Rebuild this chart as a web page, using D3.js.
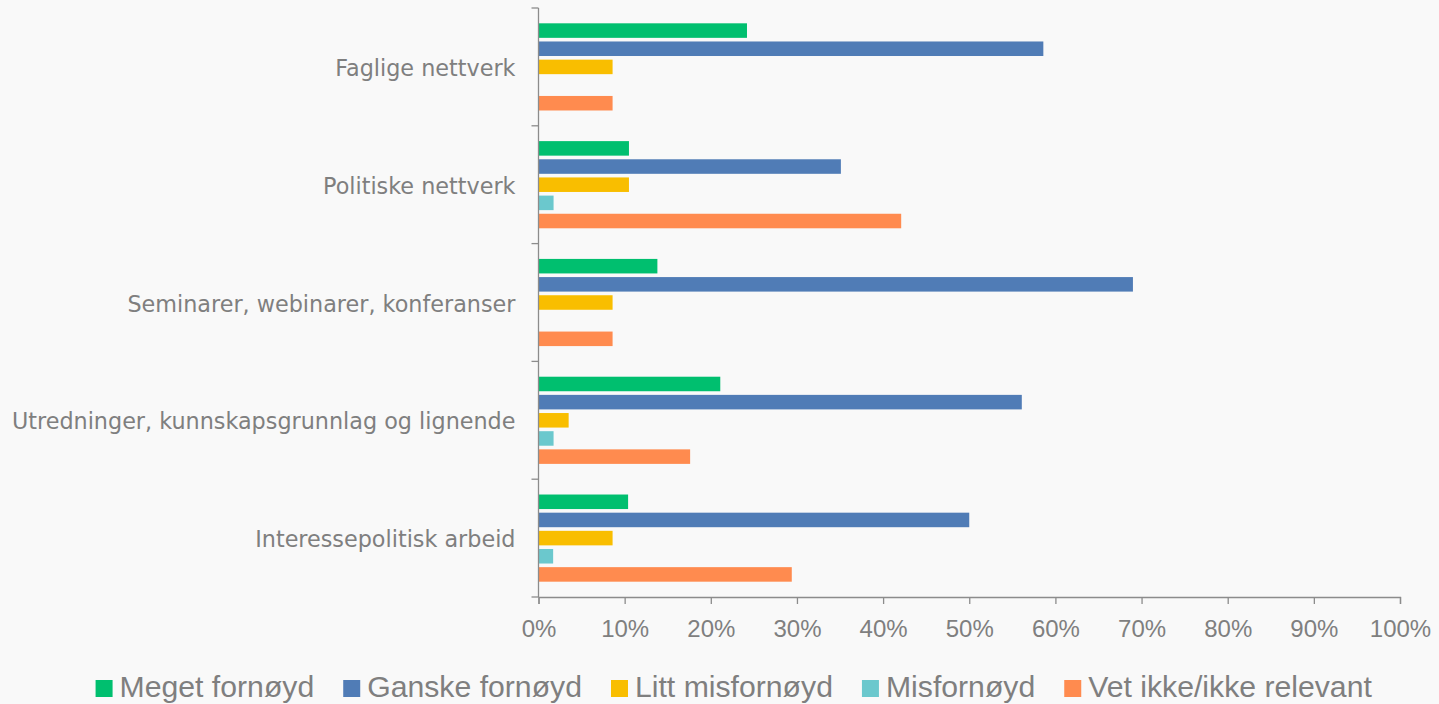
<!DOCTYPE html>
<html>
<head>
<meta charset="utf-8">
<script src="https://cdn.jsdelivr.net/npm/d3@7"></script>
<style>
  html, body { margin: 0; padding: 0; background: #f9f9f9; }
  svg { display: block; }
</style>
</head>
<body>
<svg id="chart" width="1439" height="704"></svg>
<script>
const categories = ["Faglige nettverk", "Politiske nettverk", "Seminarer, webinarer, konferanser", "Utredninger, kunnskapsgrunnlag og lignende", "Interessepolitisk arbeid"];
const seriesNames = ["Meget fornøyd", "Ganske fornøyd", "Litt misfornøyd", "Misfornøyd", "Vet ikke/ikke relevant"];
const seriesColors = ["#00BF6F", "#507CB6", "#F9BE00", "#6BC8CD", "#FF8B4F"];
const megetFornoyd   = [24.2, 10.5, 13.8, 21.1, 10.4];
const ganskeFornoyd  = [58.6, 35.1, 69.0, 56.1, 50.0];
const littMisfornoyd = [8.6, 10.5, 8.6, 3.5, 8.6];
const misfornoyd     = [0, 1.75, 0, 1.75, 1.7];
const vetIkke        = [8.6, 42.1, 8.6, 17.6, 29.4];
const xTicks = [0, 10, 20, 30, 40, 50, 60, 70, 80, 90, 100];

(function () {
const seriesValues = [megetFornoyd, ganskeFornoyd, littMisfornoyd, misfornoyd, vetIkke];
const textColor = "#7f7f7f";
const axisColor = "#8c8c8c";

const svg = d3.select("#chart");
const mLeft = 538.5, mRight = 1400, mTop = 8, mBottom = 597;

const x = d3.scaleLinear().domain([0, 100]).range([mLeft, mRight]);
const y0 = d3.scaleBand().domain(categories).range([mTop, mBottom]).paddingInner(0.26).paddingOuter(0.13);
const y1 = d3.scaleBand().domain(d3.range(seriesNames.length)).range([0, y0.bandwidth()]).paddingInner(0.2).paddingOuter(0);

// bars
const groups = svg.append("g").selectAll("g")
  .data(categories).join("g")
  .attr("transform", c => `translate(0,${y0(c)})`);
groups.selectAll("rect")
  .data((c, ci) => seriesValues.map((vals, si) => ({si, v: vals[ci]})).filter(d => d.v > 0))
  .join("rect")
  .attr("x", x(0))
  .attr("y", d => y1(d.si))
  .attr("width", d => x(d.v) - x(0))
  .attr("height", y1.bandwidth())
  .attr("fill", d => seriesColors[d.si]);

// y axis (band boundaries as ticks)
const yAxisG = svg.append("g");
yAxisG.append("line").attr("x1", mLeft).attr("x2", mLeft).attr("y1", mTop).attr("y2", mBottom)
  .attr("stroke", axisColor).attr("stroke-width", 1.3);
const boundaries = d3.range(categories.length + 1).map(i => mTop + i * y0.step());
yAxisG.selectAll("line.tick").data(boundaries).join("line").attr("class", "tick")
  .attr("x1", mLeft - 7).attr("x2", mLeft).attr("y1", d => d).attr("y2", d => d)
  .attr("stroke", axisColor).attr("stroke-width", 1.3);
yAxisG.selectAll("text").data(categories).join("text")
  .attr("x", mLeft - 23)
  .attr("y", c => y0(c) + y0.bandwidth() / 2 + 2.5)
  .attr("text-anchor", "end")
  .attr("dominant-baseline", "middle")
  .attr("font-family", "'DejaVu Sans', sans-serif")
  .attr("font-size", 22.3)
  .attr("fill", textColor)
  .text(c => c);

// x axis
const xAxis = d3.axisBottom(x).tickValues(xTicks).tickFormat(d => d + "%").tickSize(7).tickPadding(16);
const xg = svg.append("g").attr("transform", `translate(0,${mBottom})`).call(xAxis);
xg.select(".domain").attr("stroke", axisColor).attr("stroke-width", 1.3);
xg.selectAll(".tick line").attr("stroke", axisColor).attr("stroke-width", 1.3);
xg.selectAll(".tick text")
  .attr("font-family", "'Liberation Sans', Arial, sans-serif")
  .attr("font-size", 24)
  .attr("fill", textColor);

// legend
const legend = svg.append("g");
const legendY = 689;
const items = legend.selectAll("g").data(seriesNames).join("g");
items.append("rect").attr("width", 17).attr("height", 17).attr("y", legendY - 9)
  .attr("fill", (d, i) => seriesColors[i]);
items.append("text").attr("x", 24).attr("y", legendY)
  .attr("dominant-baseline", "middle")
  .attr("font-family", "'Liberation Sans', Arial, sans-serif")
  .attr("font-size", 30.2)
  .attr("fill", textColor)
  .text(d => d);
let cx = 0;
const gap = 29;
const positions = [];
items.each(function() {
  const w = this.getBBox().width;
  positions.push(cx);
  cx += w + gap;
});
const totalW = cx - gap;
const startX = 734 - totalW / 2;
items.attr("transform", (d, i) => `translate(${startX + positions[i]},0)`);
})();
</script>
</body>
</html>
